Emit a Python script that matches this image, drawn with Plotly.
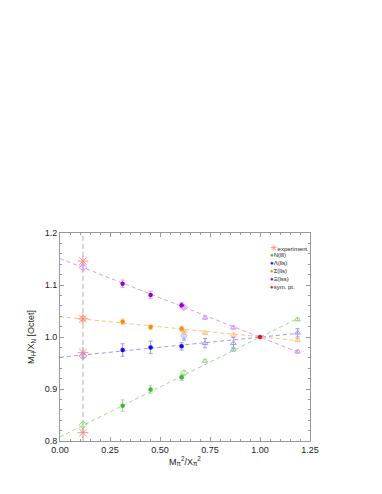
import plotly.graph_objects as go

# ---------------- data ----------------
x_phys = 0.115
x_fill = [0.313, 0.453, 0.608]
x_open = [0.62, 0.725, 0.867, 1.188]
x_fit = [0.0, 1.19]
x_sym = [1.0]
y_sym = [1.0]

series = ["N(lll)", "Λ(lls)", "Σ(lls)", "Ξ(lss)"]
colors = ["#3cb832", "#1010e8", "#ff8c00", "#9400d3"]
pale = ["#9edc8e", "#9a9aff", "#ffc37a", "#d99af0"]
exp_color = "#ff7a7a"
sym_color = "#ee1111"

exp_vals = [0.816, 0.970, 1.035, 1.146]
phys_vals = [0.831, 0.964, 1.035, 1.134]

fill_vals = [
    [0.868, 0.899, 0.9225],
    [0.975, 0.980, 0.982],
    [1.0295, 1.019, 1.016],
    [1.1025, 1.081, 1.061],
]
fill_err = [
    [0.011, 0.007, 0.006],
    [0.012, 0.012, 0.007],
    [0.005, 0.004, 0.004],
    [0.007, 0.007, 0.005],
]
open_vals = [
    [0.931, 0.954, 0.976, 1.034],
    [1.002, 0.988, 0.988, 1.008],
    [1.010, 1.008, 1.004, 0.994],
    [1.057, 1.037, 1.018, 0.972],
]
open_err = [
    [0.004, 0.003, 0.004, 0.003],
    [0.008, 0.009, 0.011, 0.008],
    [0.003, 0.003, 0.003, 0.003],
    [0.003, 0.003, 0.003, 0.003],
]
fit_vals = [
    [0.808, 1.036],
    [0.961, 1.007],
    [1.039, 0.993],
    [1.151, 0.971],
]
phys_err = [0.004, 0.004, 0.004, 0.004]

legend_labels = ["experiment"] + series + ["sym. pt."]
legend_colors = [exp_color] + colors + [sym_color]
legend_glyphs = ["✳", "●", "●", "●", "●", "●"]

x_ticks = [0.0, 0.25, 0.5, 0.75, 1.0, 1.25]
x_tick_text = ["0.00", "0.25", "0.50", "0.75", "1.00", "1.25"]
y_ticks = [0.8, 0.9, 1.0, 1.1, 1.2]
y_tick_text = ["0.8", "0.9", "1.0", "1.1", "1.2"]

# ---------------- figure ----------------
fig = go.Figure()

# vertical physical-point line
fig.add_trace(go.Scatter(x=[x_phys, x_phys], y=[0.8, 1.2], mode="lines",
                         line=dict(color="#a0a0a0", width=0.8, dash="5px,3px"),
                         showlegend=False, hoverinfo="skip"))

for i in range(4):
    fig.add_trace(go.Scatter(x=x_fit, y=fit_vals[i], mode="lines",
                             line=dict(color=pale[i], width=1, dash="4px,3px"),
                             showlegend=False, hoverinfo="skip"))
    fig.add_trace(go.Scatter(x=[x_open[0]], y=[open_vals[i][0]], mode="markers",
                             marker=dict(symbol="diamond-open", size=5, color=pale[i],
                                         line=dict(width=1, color=pale[i])),
                             error_y=dict(type="data", array=[open_err[i][0]], color=pale[i],
                                          thickness=1, width=2),
                             showlegend=False))
    fig.add_trace(go.Scatter(x=x_open[1:], y=open_vals[i][1:], mode="markers",
                             marker=dict(symbol="triangle-up-open", size=5, color=pale[i],
                                         line=dict(width=1, color=pale[i])),
                             error_y=dict(type="data", array=open_err[i][1:], color=pale[i],
                                          thickness=1, width=2),
                             showlegend=False))
    fig.add_trace(go.Scatter(x=[x_phys], y=[phys_vals[i]], mode="markers",
                             marker=dict(symbol="diamond-open", size=6, color=pale[i],
                                         line=dict(width=1, color=pale[i])),
                             error_y=dict(type="data", array=[phys_err[i]], color=pale[i],
                                          thickness=1, width=2),
                             showlegend=False))

# experiment stars
fig.add_trace(go.Scatter(x=[x_phys] * 4, y=exp_vals, mode="markers", name="experiment",
                         marker=dict(symbol="asterisk-open", size=9, color=exp_color,
                                     line=dict(color=exp_color, width=0.8)),
                         showlegend=False))

for i in range(4):
    fig.add_trace(go.Scatter(x=x_fill, y=fill_vals[i], mode="markers", name=series[i],
                             marker=dict(symbol="circle", size=4.5, color=colors[i]),
                             error_y=dict(type="data", array=fill_err[i], color=pale[i],
                                          thickness=1, width=2),
                             showlegend=False))

fig.add_trace(go.Scatter(x=x_sym, y=y_sym, mode="markers", name="sym. pt.",
                         marker=dict(symbol="circle", size=4.5, color=sym_color),
                         showlegend=False))

# compact legend (text annotations)
for k, (lab, col, g) in enumerate(zip(legend_labels, legend_colors, legend_glyphs)):
    gsize = 9 if k == 0 else 6
    fig.add_annotation(
        xref="paper", yref="paper", x=0.83, y=0.93 - k * 0.0375,
        xanchor="left", yanchor="middle", showarrow=False, align="left",
        text=f"<span style='color:{col};font-size:{gsize}px'>{g}</span>{lab}",
        font=dict(family="Liberation Sans, DejaVu Sans", size=6, color="#222222"),
    )

axis_common = dict(
    showline=True, linecolor="#999999", linewidth=1, mirror="ticks",
    ticks="inside", ticklen=4, tickcolor="#999999", showgrid=False, zeroline=False,
    tickfont=dict(family="Liberation Sans, Arial", size=9, color="#222222"),
)

fig.update_layout(
    width=374, height=486,
    margin=dict(l=52, r=72, t=225, b=53),
    paper_bgcolor="white", plot_bgcolor="white",
    font=dict(family="Liberation Sans, Arial", size=9, color="#222222"),
    showlegend=False,
    xaxis=dict(range=[0, 1.25], tickvals=x_ticks, ticktext=x_tick_text,
               minor=dict(dtick=0.05, ticks="inside", ticklen=2, tickcolor="#999999"),
               title=dict(text="M<sub>π</sub><sup>2</sup>/X<sub>π</sub><sup>2</sup>",
                          font=dict(size=9), standoff=0),
               **axis_common),
    yaxis=dict(range=[0.8, 1.2], tickvals=y_ticks, ticktext=y_tick_text,
               minor=dict(dtick=0.02, ticks="inside", ticklen=2, tickcolor="#999999"),
               title=dict(text="M<sub>H</sub>/X<sub>N</sub> [Octet]",
                          font=dict(size=9), standoff=8),
               **axis_common),
)

fig.write_html("out.html")
